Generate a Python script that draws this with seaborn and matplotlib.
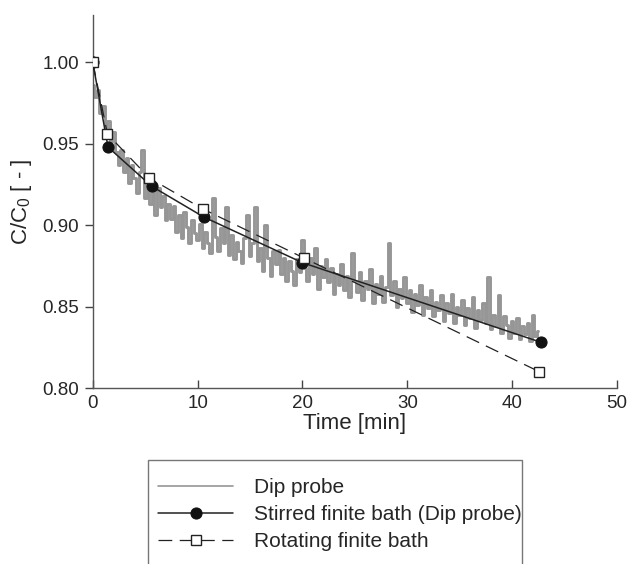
import numpy as np
import pandas as pd
import seaborn as sns
import matplotlib
import matplotlib.pyplot as plt
from matplotlib.patches import Rectangle

matplotlib.use('Agg')

# dip probe trace, every 0.25 min
dip_time = np.arange(0, 42.51, 0.25)
dip_conc = [
    0.986, 0.979, 0.983, 0.969, 0.973, 0.960, 0.964, 0.951, 0.957, 0.945,
    0.937, 0.946, 0.933, 0.941, 0.926, 0.937, 0.929, 0.920, 0.933, 0.946,
    0.917, 0.928, 0.913, 0.921, 0.906, 0.923, 0.911, 0.918, 0.903, 0.913,
    0.904, 0.912, 0.896, 0.906, 0.892, 0.908, 0.899, 0.889, 0.903, 0.895,
    0.891, 0.901, 0.886, 0.896, 0.889, 0.883, 0.917, 0.893, 0.884, 0.898,
    0.889, 0.911, 0.882, 0.894, 0.879, 0.890, 0.884, 0.877, 0.892, 0.906,
    0.881, 0.889, 0.911, 0.878, 0.886, 0.872, 0.900, 0.880, 0.869, 0.884,
    0.876, 0.885, 0.870, 0.880, 0.866, 0.878, 0.872, 0.863, 0.879, 0.871,
    0.891, 0.874, 0.866, 0.880, 0.870, 0.886, 0.861, 0.875, 0.868, 0.879,
    0.865, 0.874, 0.858, 0.870, 0.863, 0.876, 0.860, 0.869, 0.856, 0.883,
    0.866, 0.859, 0.871, 0.854, 0.866, 0.861, 0.873, 0.852, 0.864, 0.858,
    0.869, 0.853, 0.862, 0.889, 0.857, 0.866, 0.850, 0.861, 0.855, 0.868,
    0.852, 0.860, 0.847, 0.858, 0.851, 0.863, 0.845, 0.856, 0.849, 0.860,
    0.844, 0.853, 0.848, 0.857, 0.841, 0.852, 0.846, 0.858, 0.840, 0.850,
    0.845, 0.854, 0.839, 0.849, 0.843, 0.856, 0.837, 0.848, 0.842, 0.852,
    0.840, 0.868, 0.836, 0.845, 0.838, 0.857, 0.834, 0.844, 0.839, 0.831,
    0.841, 0.834, 0.843, 0.830, 0.838, 0.833, 0.840, 0.829, 0.845, 0.832,
    0.835,
]

stirred_time = [0, 1.45, 5.6, 10.6, 20.0, 42.8]
stirred_conc = [1.000, 0.948, 0.924, 0.905, 0.877, 0.828]

rotating_time = [0, 1.4, 5.4, 10.5, 20.1, 42.6]
rotating_conc = [1.000, 0.956, 0.929, 0.910, 0.880, 0.810]

sns.set_style('ticks')
plt.rcParams['font.family'] = ['Liberation Sans', 'DejaVu Sans']
plt.rcParams['mathtext.fontset'] = 'custom'
plt.rcParams['mathtext.rm'] = 'Liberation Sans'

fig = plt.figure(figsize=(6.27, 5.64), dpi=100)
ax = fig.add_axes([0.148, 0.312, 0.836, 0.661])

sns.lineplot(x=dip_time, y=dip_conc, ax=ax, color='#969696', lw=2.1,
             estimator=None, sort=False, drawstyle='steps-mid',
             label='Dip probe', zorder=1)
sns.lineplot(x=stirred_time, y=stirred_conc, ax=ax, color='#222222', lw=1.1,
             marker='o', markersize=8, markerfacecolor='#111111',
             markeredgecolor='#111111', estimator=None,
             label='Stirred finite bath (Dip probe)', zorder=3)
sns.lineplot(x=rotating_time, y=rotating_conc, ax=ax, color='#222222', lw=0.9,
             marker='s', markersize=7, markerfacecolor='white',
             markeredgecolor='#222222', markeredgewidth=1.0, estimator=None,
             label='Rotating finite bath', zorder=4)
ax.lines[2].set_dashes((11, 6))

ax.set_xlim(0, 50)
ax.set_ylim(0.80, 1.029)
ax.set_xticks([0, 10, 20, 30, 40, 50])
ax.set_yticks([0.80, 0.85, 0.90, 0.95, 1.00])
ax.set_yticklabels(['0.80', '0.85', '0.90', '0.95', '1.00'])
ax.tick_params(axis='x', direction='in', length=6, width=1, color='#444444',
               labelsize=13.5, pad=5)
ax.tick_params(axis='y', direction='out', length=6, width=1, color='#444444',
               labelsize=13.5, pad=4)
for s in ['left', 'bottom']:
    ax.spines[s].set_color('#555555')
    ax.spines[s].set_linewidth(1)
sns.despine(ax=ax)

ax.set_xlabel('Time [min]', fontsize=16, labelpad=1)
ax.set_ylabel(r'C/C$_\mathregular{0}$ [ - ]', fontsize=16, labelpad=6)

handles, labels = ax.get_legend_handles_labels()
ax.get_legend().remove()
fig.patches.append(Rectangle((148 / 627, -0.05), 374 / 627, 0.05 + 104 / 564,
                             transform=fig.transFigure, fill=False,
                             edgecolor='#777777', lw=1))
leg = fig.legend(handles, labels, loc='upper left',
                 bbox_to_anchor=(158 / 627, 1 - 478 / 564), frameon=False,
                 borderpad=0, borderaxespad=0,
                 fontsize=15, handlelength=3.6, handletextpad=1.0,
                 labelspacing=0.38)
leg.legend_handles[0].set_linewidth(1.2)

fig.savefig('out.png', dpi=100)
